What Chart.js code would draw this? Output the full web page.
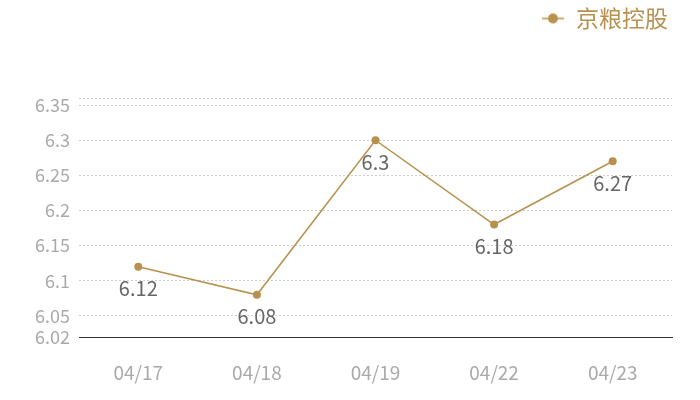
<!DOCTYPE html>
<html>
<head>
<meta charset="utf-8">
<script src="https://cdn.jsdelivr.net/npm/chart.js@4/dist/chart.umd.min.js"></script>
<style>
  html, body { margin: 0; padding: 0; background: #fff; }
  #wrap { width: 700px; height: 400px; }
</style>
</head>
<body>
<div id="wrap"><canvas id="chart"></canvas></div>
<script>
const categories = ["04/17", "04/18", "04/19", "04/22", "04/23"];
const prices = [6.12, 6.08, 6.3, 6.18, 6.27];
const seriesName = "京粮控股";
const yTicks = [6.02, 6.05, 6.1, 6.15, 6.2, 6.25, 6.3, 6.35, 6.36];
const yLabeled = [6.02, 6.05, 6.1, 6.15, 6.2, 6.25, 6.3, 6.35];

const gold = "#b8914f";
const fontFamily = "'Noto Sans CJK SC', 'Open Sans', sans-serif";

// legend symbol: short line with a dot in the middle
function makeLegendIcon() {
  const c = document.createElement("canvas");
  c.width = 22;
  c.height = 14;
  const ctx = c.getContext("2d");
  ctx.strokeStyle = gold;
  ctx.lineWidth = 1.5;
  ctx.beginPath();
  ctx.moveTo(0, 7);
  ctx.lineTo(22, 7);
  ctx.stroke();
  ctx.fillStyle = gold;
  ctx.beginPath();
  ctx.arc(11, 7, 5, 0, Math.PI * 2);
  ctx.fill();
  return c;
}

const valueLabels = {
  id: "valueLabels",
  afterDatasetsDraw(chart) {
    const ctx = chart.ctx;
    const meta = chart.getDatasetMeta(0);
    ctx.save();
    ctx.fillStyle = "#666";
    ctx.font = "20px " + fontFamily;
    ctx.textAlign = "center";
    ctx.textBaseline = "middle";
    meta.data.forEach((pt, i) => {
      ctx.fillText(String(prices[i]), pt.x, pt.y + 22);
    });
    ctx.restore();
  },
};

const legendSpace = {
  id: "legendSpace",
  beforeInit(chart) {
    const fit = chart.legend.fit;
    chart.legend.fit = function () {
      fit.bind(chart.legend)();
      this.height += 58;
    };
  },
};

new Chart(document.querySelector("#chart"), {
  type: "line",
  data: {
    labels: categories,
    datasets: [
      {
        label: seriesName,
        data: prices,
        borderColor: gold,
        backgroundColor: gold,
        borderWidth: 1.5,
        pointStyle: "circle",
        pointRadius: 4,
        pointHoverRadius: 4,
        pointBackgroundColor: gold,
        pointBorderWidth: 0,
        tension: 0,
      },
    ],
  },
  options: {
    responsive: true,
    maintainAspectRatio: false,
    animation: false,
    layout: {
      padding: { left: 0, right: 28, top: 3, bottom: 0 },
    },
    plugins: {
      legend: {
        position: "top",
        align: "end",
        labels: {
          usePointStyle: true,
          color: gold,
          font: { family: fontFamily, size: 23 },
          padding: 4,
          generateLabels(chart) {
            return [
              {
                text: seriesName,
                fontColor: gold,
                pointStyle: makeLegendIcon(),
                fillStyle: gold,
                strokeStyle: gold,
                lineWidth: 0,
                datasetIndex: 0,
              },
            ];
          },
        },
      },
      tooltip: { enabled: false },
    },
    scales: {
      x: {
        offset: true,
        grid: { display: false, drawTicks: false },
        border: { display: true, color: "#333", width: 1 },
        afterFit(scale) {
          scale.height = 63;
        },
        ticks: {
          color: "#aaa",
          padding: 24,
          font: { family: fontFamily, size: 19 },
        },
      },
      y: {
        min: 6.02,
        max: 6.36,
        afterBuildTicks(scale) {
          scale.ticks = yTicks.map((v) => ({ value: v }));
        },
        afterFit(scale) {
          scale.width = 79;
        },
        grid: { color: "#cfcfcf", lineWidth: 1, drawTicks: false },
        border: { display: false, dash: [2, 2] },
        ticks: {
          color: "#aaa",
          padding: 9,
          font: { family: fontFamily, size: 18 },
          callback: function (value) {
            return yLabeled.includes(value) ? String(value) : "";
          },
        },
      },
    },
  },
  plugins: [valueLabels, legendSpace],
});
</script>
</body>
</html>
